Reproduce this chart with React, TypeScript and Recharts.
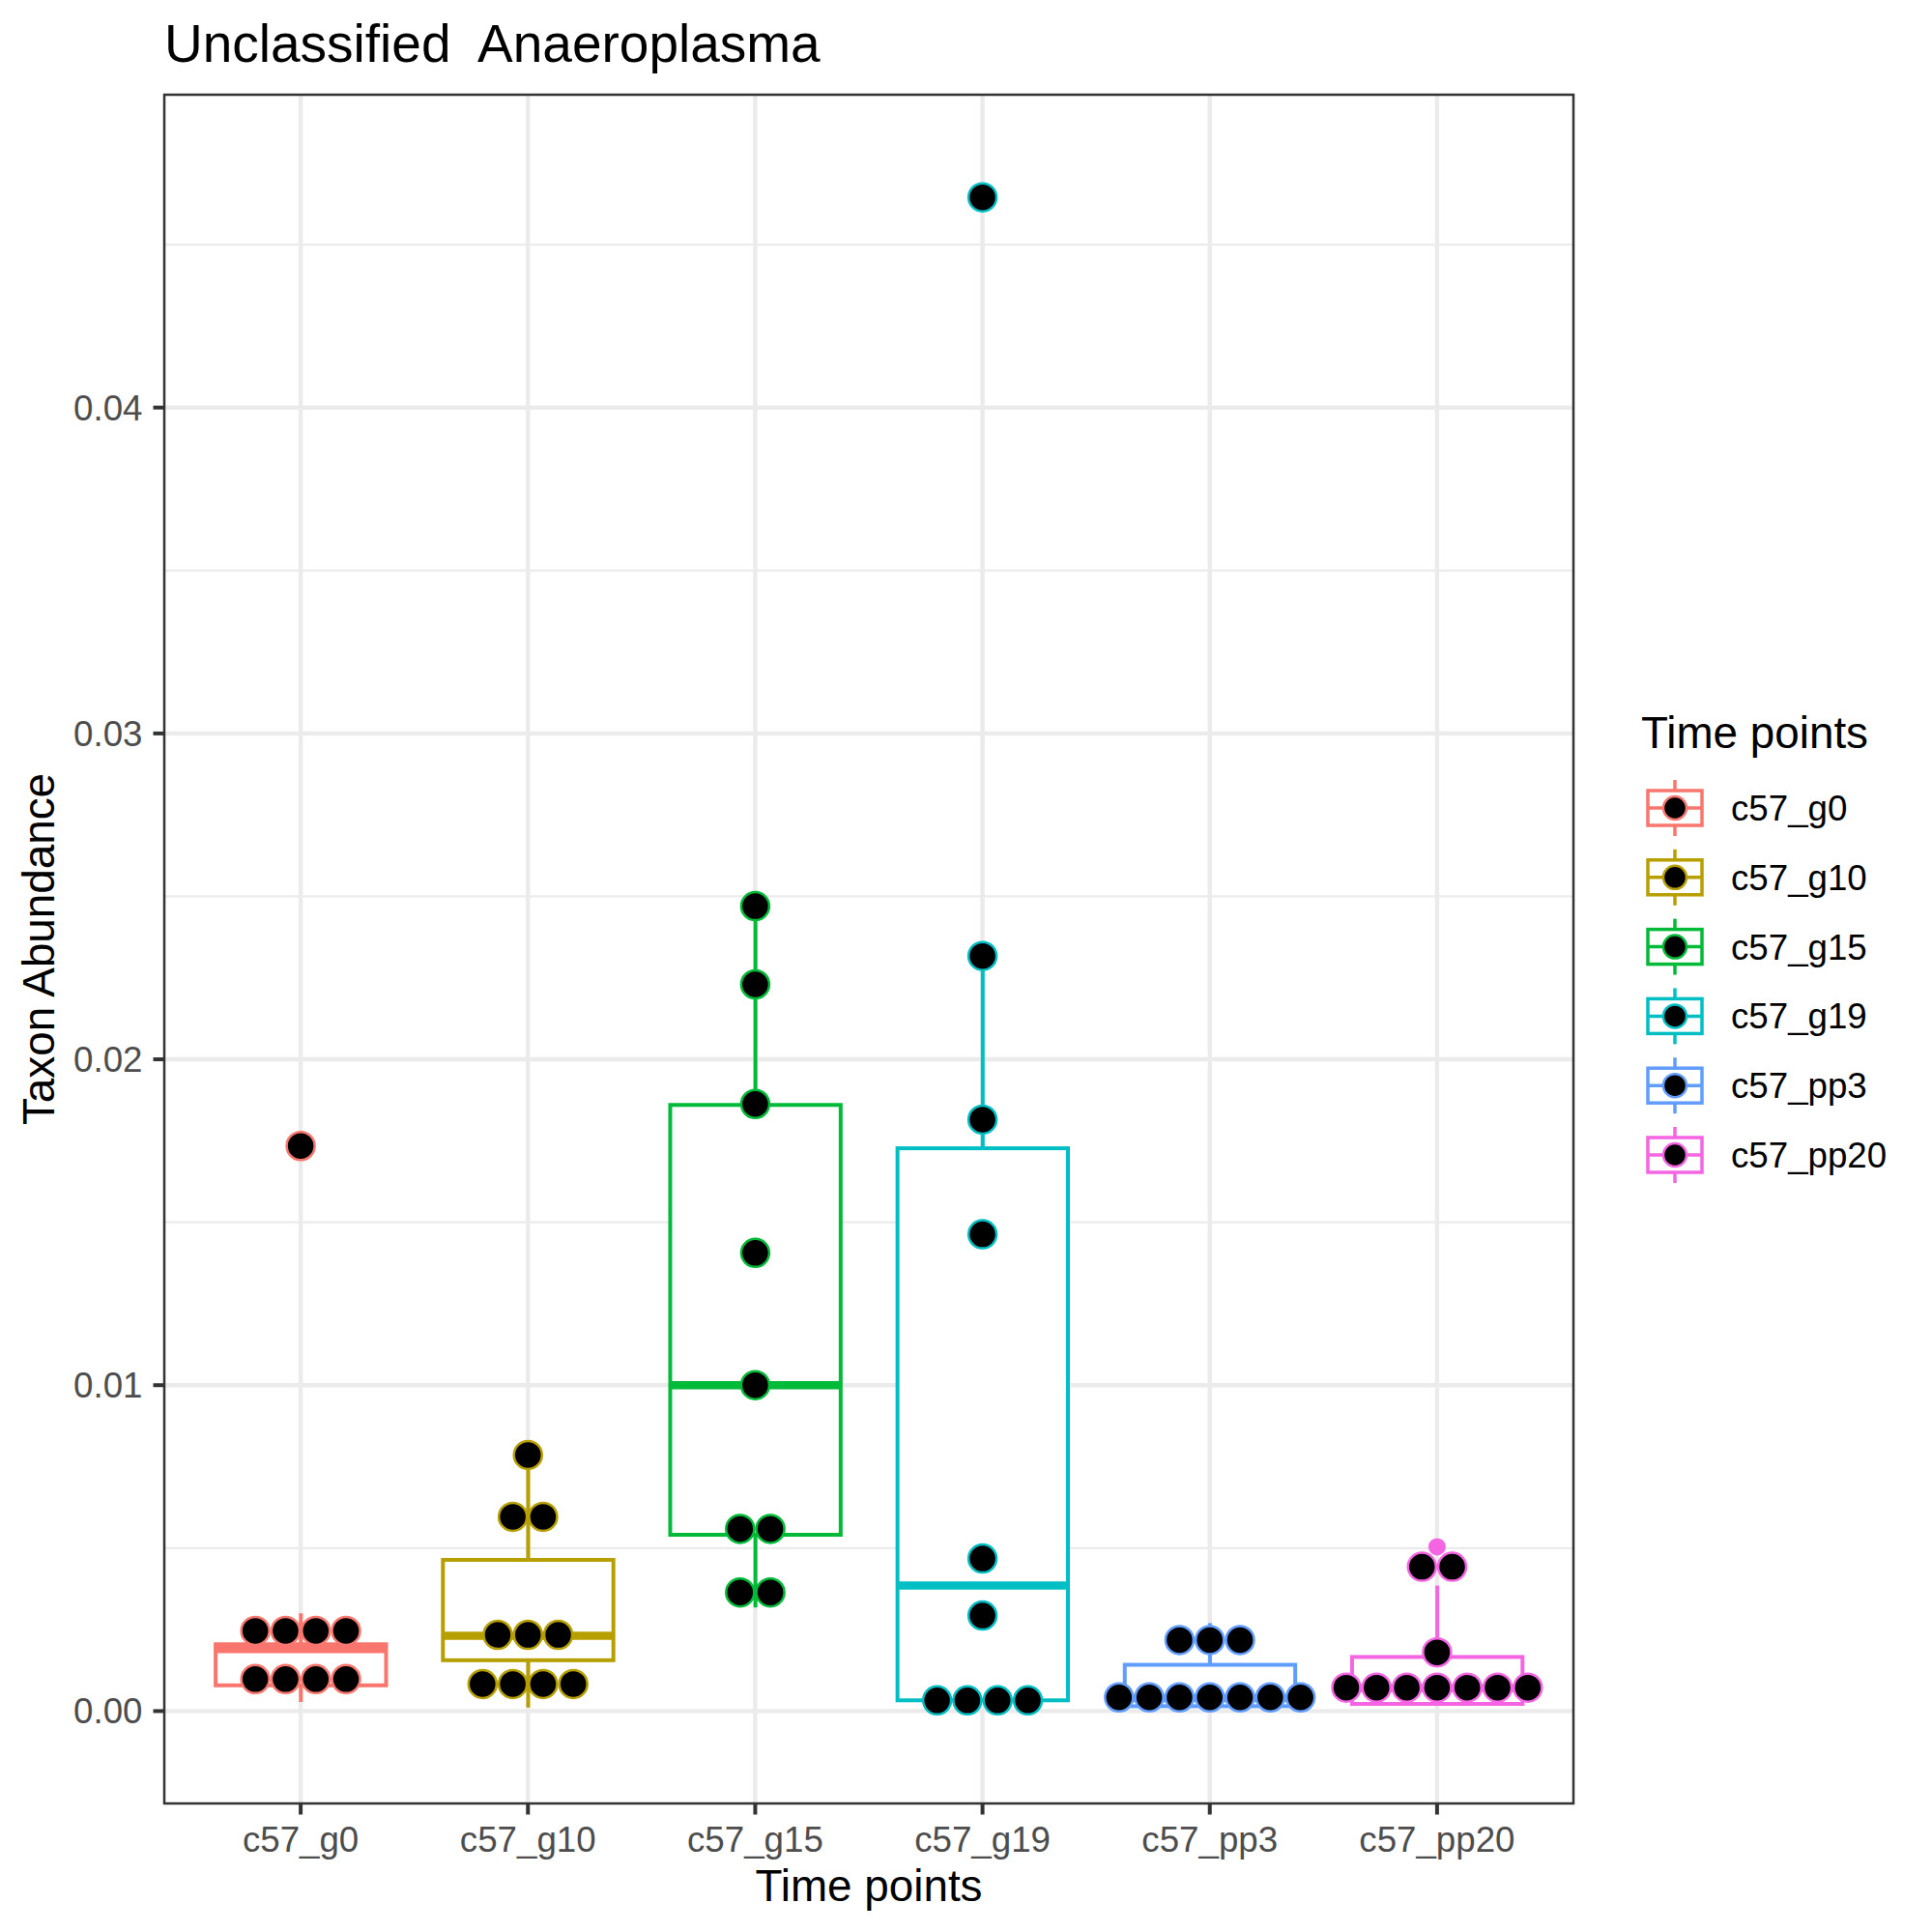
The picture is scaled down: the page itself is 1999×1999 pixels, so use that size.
import { ComposedChart, Bar, Scatter, XAxis, YAxis, CartesianGrid, ReferenceArea } from 'recharts';

const groups = ['c57_g0', 'c57_g10', 'c57_g15', 'c57_g19', 'c57_pp3', 'c57_pp20'];
const colors = ['#F8766D', '#B79F00', '#00BA38', '#00BFC4', '#619CFF', '#F564E3'];

// boxplot stats
const whiskerLow = [0.00028, 0.00011, 0.00318, 0.0003, 0.0001, 0.0002];
const lowerQuartile = [0.00079, 0.00156, 0.00541, 0.00033, 0.00015, 0.00022];
const medians = [0.0019, 0.00231, 0.01, 0.00385, 0.0004, 0.0007];
const upperQuartile = [0.00205, 0.00464, 0.0186, 0.01727, 0.00142, 0.00166];
const whiskerHigh = [0.003, 0.00786, 0.0247, 0.0232, 0.0027, 0.00385];
const outliers = [[0.01735], [], [], [0.0464], [], [0.00504]];

// dotplot bins: [bin centre, number of dots]
const dotBins: number[][][] = [
  [[0.01734, 1], [0.00246, 4], [0.00098, 4]],
  [[0.00786, 1], [0.00596, 2], [0.00234, 3], [0.00083, 4]],
  [[0.0247, 1], [0.0223, 1], [0.01863, 1], [0.01406, 1], [0.01, 1], [0.00559, 2], [0.00364, 2]],
  [[0.04645, 1], [0.02317, 1], [0.01815, 1], [0.01463, 1], [0.00468, 1], [0.00293, 1], [0.00033, 4]],
  [[0.00218, 3], [0.00042, 7]],
  [[0.00443, 2], [0.0018, 1], [0.00072, 7]],
];

const majorTicks = [0, 0.01, 0.02, 0.03, 0.04];
const minorTicks = [0.005, 0.015, 0.025, 0.035, 0.045];
const yDomain = [-0.002835, 0.0496];

const W = 1999;
const H = 1999;
const M = { top: 98, right: 371, left: 0, bottom: 0 };
const plotW = W - 170 - M.right;
const unitPx = plotW / 6.2;
const boxW = unitPx * 0.75;
const dotStep = 31.3 / unitPx;
const font = '"Liberation Sans", Arial, Helvetica, sans-serif';

const boxData = groups.map((g, i) => ({
  x: i + 1,
  name: g,
  lo: whiskerLow[i],
  q1: lowerQuartile[i],
  med: medians[i],
  q3: upperQuartile[i],
  hi: whiskerHigh[i],
  color: colors[i],
}));

const dotData = dotBins.map((bins, i) =>
  bins.flatMap(([v, n]) =>
    Array.from({ length: n }, (_, k) => ({ x: i + 1 + (k - (n - 1) / 2) * dotStep, y: v }))
  )
);

const outlierData = outliers.map((vals, i) => vals.map((v) => ({ x: i + 1, y: v })));

function BoxShape(props: any) {
  const { x, y, width, height, payload } = props;
  const { lo, hi, q1, med, q3, color } = payload;
  const py = (v: number) => y + (height * (hi - v)) / (hi - lo);
  const cx = x + width / 2;
  const left = cx - boxW / 2;
  return (
    <g>
      <line x1={cx} x2={cx} y1={py(hi)} y2={py(q3)} stroke={color} strokeWidth={4} />
      <line x1={cx} x2={cx} y1={py(q1)} y2={py(lo)} stroke={color} strokeWidth={4} />
      <rect x={left} y={py(q3)} width={boxW} height={py(q1) - py(q3)} fill="#fff" stroke={color} strokeWidth={4} />
      <line x1={left} x2={left + boxW} y1={py(med)} y2={py(med)} stroke={color} strokeWidth={8.5} />
    </g>
  );
}

function LegendKey({ cy, color }: { cy: number; color: string }) {
  const cx = 1733;
  return (
    <g>
      <line x1={cx} x2={cx} y1={cy - 29} y2={cy + 29} stroke={color} strokeWidth={3.5} />
      <rect x={cx - 28} y={cy - 18} width={56} height={36} fill="#fff" stroke={color} strokeWidth={3.5} />
      <line x1={cx - 28} x2={cx + 28} y1={cy} y2={cy} stroke={color} strokeWidth={3.5} />
      <circle cx={cx} cy={cy} r={12} fill="#000" stroke={color} strokeWidth={2.5} />
    </g>
  );
}

export default function App() {
  return (
    <div style={{ position: 'absolute', left: 0, top: 0, width: W, height: H, background: '#fff', fontFamily: font }}>
      <ComposedChart width={W} height={H} data={boxData} margin={M}>
        <CartesianGrid horizontalValues={minorTicks} vertical={false} stroke="#EBEBEB" strokeWidth={2.2} />
        <CartesianGrid horizontalValues={majorTicks} verticalValues={[1, 2, 3, 4, 5, 6]} stroke="#EBEBEB" strokeWidth={4.4} />
        <XAxis
          dataKey="x"
          type="number"
          domain={[0.4, 6.6]}
          ticks={[1, 2, 3, 4, 5, 6]}
          interval={0}
          allowDataOverflow
          tickFormatter={(v: number) => groups[v - 1]}
          height={133}
          tickSize={11.5}
          tickMargin={12}
          axisLine={false}
          tickLine={{ stroke: '#333333', strokeWidth: 4 }}
          tick={{ fill: '#4D4D4D', fontSize: 36.7, fontFamily: font }}
        />
        <YAxis
          type="number"
          domain={yDomain}
          ticks={majorTicks}
          allowDataOverflow
          tickFormatter={(v: number) => v.toFixed(2)}
          width={170}
          tickSize={11.5}
          tickMargin={11}
          axisLine={false}
          tickLine={{ stroke: '#333333', strokeWidth: 4 }}
          tick={{ fill: '#4D4D4D', fontSize: 36.7, fontFamily: font }}
        />
        <Bar dataKey={(d: any) => [d.lo, d.hi]} barSize={boxW} shape={BoxShape} isAnimationActive={false} />
        {outlierData.map((pts, i) => (
          <Scatter
            key={'o' + i}
            data={pts}
            dataKey="y"
            isAnimationActive={false}
            shape={(p: any) => <circle cx={p.cx} cy={p.cy} r={9} fill={colors[i]} />}
          />
        ))}
        {dotData.map((pts, i) => (
          <Scatter
            key={'d' + i}
            data={pts}
            dataKey="y"
            isAnimationActive={false}
            shape={(p: any) => <circle cx={p.cx} cy={p.cy} r={14.5} fill="#000" stroke={colors[i]} strokeWidth={2.5} />}
          />
        ))}
        <ReferenceArea x1={0.4} x2={6.6} y1={yDomain[0]} y2={yDomain[1]} ifOverflow="visible" fill="none" fillOpacity={0} stroke="#333333" strokeWidth={2.5} />
      </ComposedChart>
      <svg width={W} height={H} style={{ position: 'absolute', left: 0, top: 0, pointerEvents: 'none' }} fontFamily={font}>
        <text x={170} y={64} fontSize={55} fill="#000" xmlSpace="preserve" style={{ whiteSpace: 'pre' }}>
          {'Unclassified  Anaeroplasma'}
        </text>
        <text x={899} y={1967} fontSize={45.8} textAnchor="middle" fill="#000">
          Time points
        </text>
        <text x={56} y={982} fontSize={45.8} textAnchor="middle" fill="#000" transform="rotate(-90 56 982)">
          Taxon Abundance
        </text>
        <text x={1698} y={774} fontSize={45.8} fill="#000">
          Time points
        </text>
        {groups.map((g, i) => {
          const cy = 836 + i * 71.8;
          return (
            <g key={g}>
              <LegendKey cy={cy} color={colors[i]} />
              <text x={1791} y={cy + 13} fontSize={36.7} fill="#000">
                {g}
              </text>
            </g>
          );
        })}
      </svg>
    </div>
  );
}
